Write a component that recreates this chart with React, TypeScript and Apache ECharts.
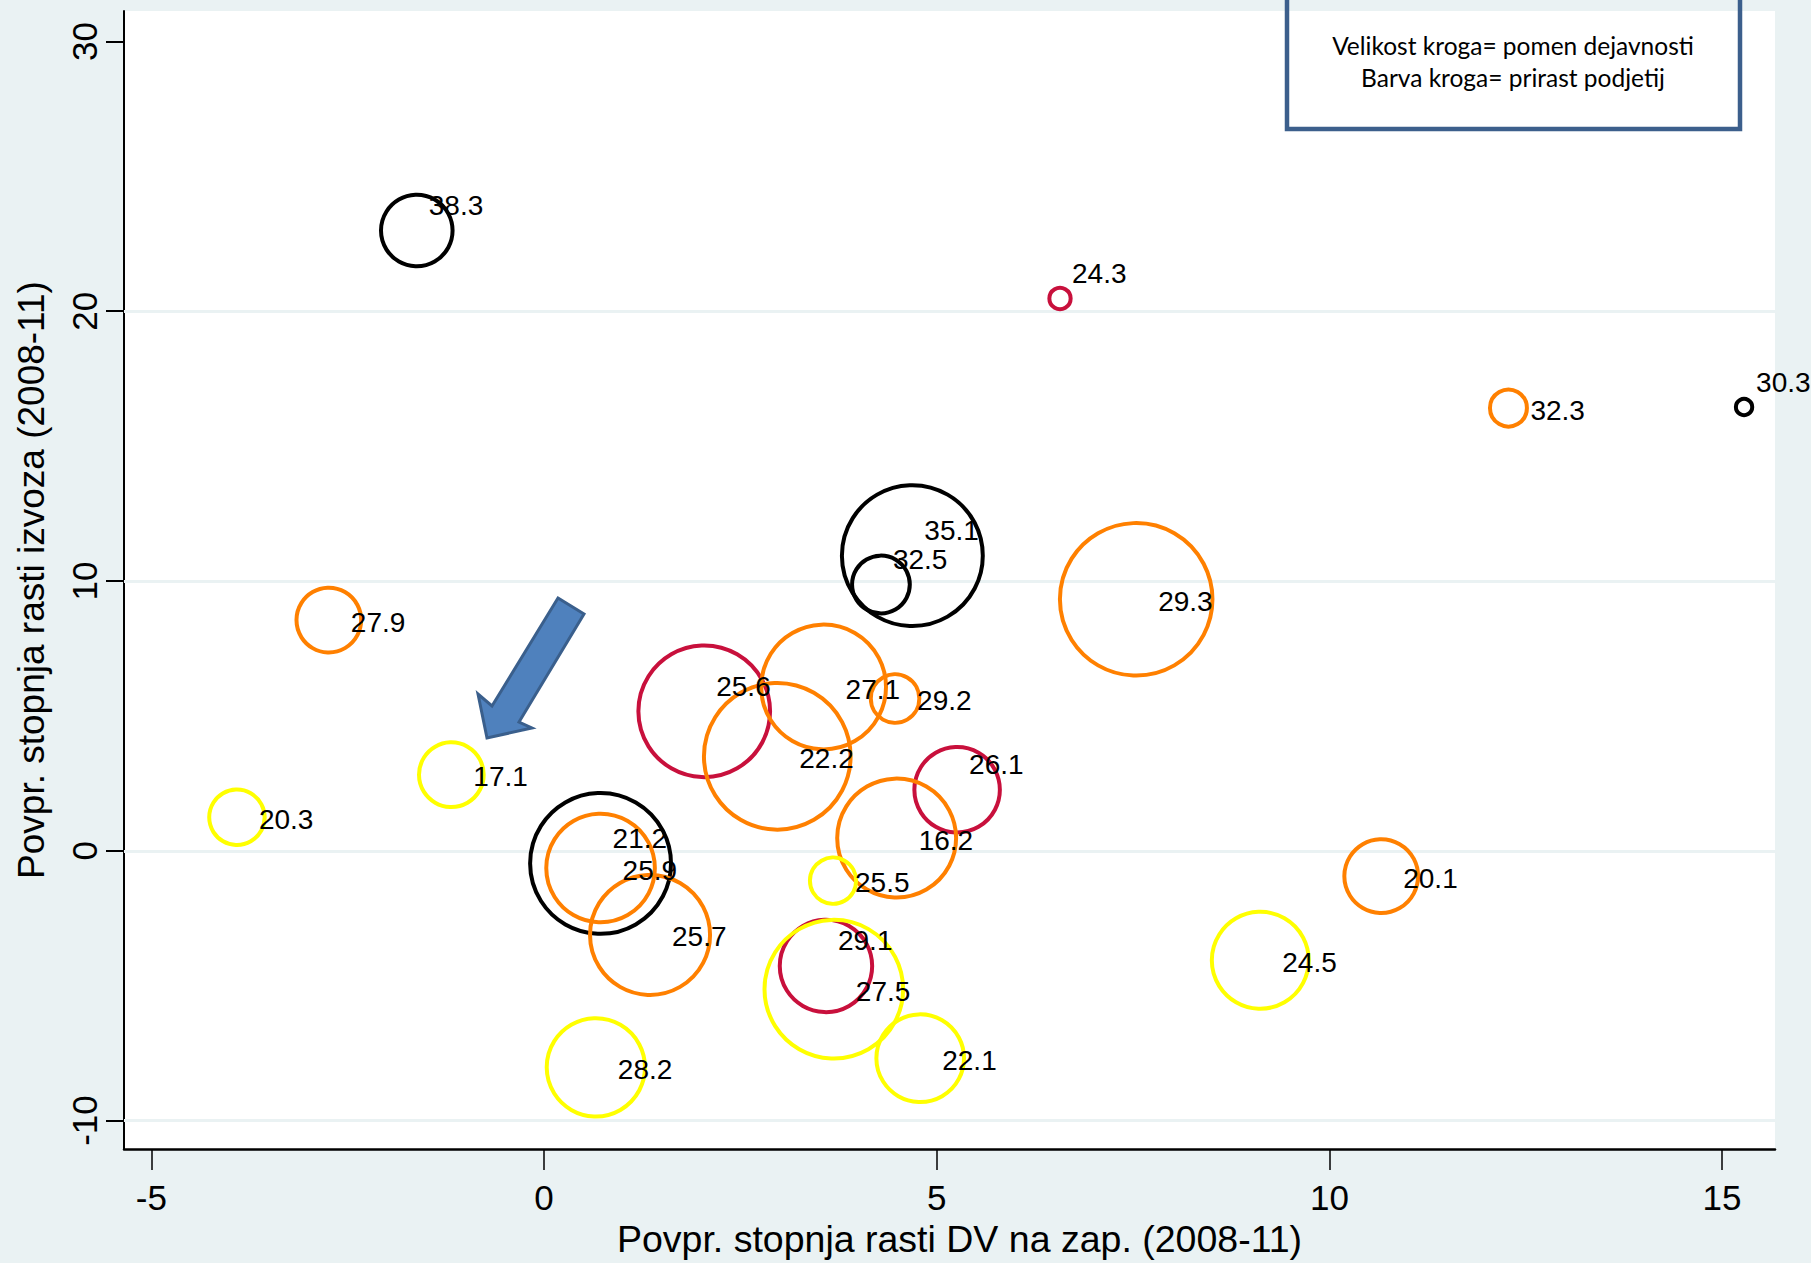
import React, { useEffect, useRef } from "react";
import * as echarts from "echarts";

// Povpr. stopnja rasti DV na zap. (2008-11)
const xGrowthValueAdded = [
  -1.62, 6.57, 15.28, 12.28, 4.69, 4.29, 7.54, -2.74, 2.04, 3.56, 4.47, 2.97, -1.18,
  5.26, -3.91, 0.72, 0.72, 4.49, 3.68, 10.66, 1.35, 3.59, 9.12, 3.69, 0.66, 4.79,
];
// Povpr. stopnja rasti izvoza (2008-11)
const yGrowthExports = [
  22.99, 20.47, 16.45, 16.41, 10.94, 9.87, 9.32, 8.55, 5.17, 6.07, 5.64, 3.5, 2.82,
  2.26, 1.24, -0.47, -0.64, 0.47, -1.11, -0.94, -3.12, -4.27, -4.06, -5.13, -8.03, -7.69,
];
// Velikost kroga = pomen dejavnosti (relative weight)
const importance = [
  9.6, 0.85, 0.5, 2.56, 37.2, 6.25, 43.6, 7.84, 32.5, 29.2, 4.41, 40.3, 7.84,
  13.7, 5.76, 37.2, 22.1, 26.5, 4.0, 10.2, 27.0, 16.0, 17.6, 36.0, 18.1, 14.4,
];
// Point labels
const pointLabels = [
  38.3, 24.3, 30.3, 32.3, 35.1, 32.5, 29.3, 27.9, 25.6, 27.1, 29.2, 22.2, 17.1,
  26.1, 20.3, 21.2, 25.9, 16.2, 25.5, 20.1, 25.7, 29.1, 24.5, 27.5, 28.2, 22.1,
];
// Barva kroga = prirast podjetij (class)
const firmGrowthClass = [
  "black", "red", "black", "orange", "black", "black", "orange", "orange", "red", "orange", "orange", "orange", "yellow",
  "red", "yellow", "black", "orange", "orange", "yellow", "orange", "orange", "red", "yellow", "yellow", "yellow", "yellow",
];

const xTicks = [-5, 0, 5, 10, 15];
const yTicks = [-10, 0, 10, 20, 30];
const yGridLines = [-10, 0, 10, 20];

const classStyles = [
  { key: "black", color: "#000000", offset: [12, -25] },
  { key: "red", color: "#c8103c", offset: [12, -25] },
  { key: "orange", color: "#ff8000", offset: [22, 2] },
  { key: "yellow", color: "#ffff00", offset: [22, 2] },
];

const BG = "#eaf2f3";
const FONT = "'Liberation Sans', Arial, sans-serif";

export default function App() {
  const ref = useRef<HTMLDivElement>(null);

  useEffect(() => {
    document.body.style.margin = "0";
    const chart = echarts.init(ref.current!, null, { renderer: "svg" });

    const scatterSeries = classStyles.map((cs) => ({
      type: "scatter",
      name: cs.key,
      z: 10,
      silent: true,
      symbol: "circle",
      symbolSize: (val: number[]) => Math.sqrt(val[2]) * 23.1,
      itemStyle: {
        color: "rgba(0,0,0,0)",
        borderColor: cs.color,
        borderWidth: 4,
        borderCap: "round",
        borderJoin: "round",
        opacity: 1,
      },
      label: {
        show: true,
        position: "inside",
        align: "left",
        verticalAlign: "middle",
        offset: cs.offset,
        color: "#000",
        fontFamily: FONT,
        fontSize: 28,
        formatter: (p: any) => p.data.name,
      },
      data: xGrowthValueAdded
        .map((x, i) => ({ i, x }))
        .filter((d) => firmGrowthClass[d.i] === cs.key)
        .map((d) => ({
          name: pointLabels[d.i].toFixed(1),
          value: [d.x, yGrowthExports[d.i], importance[d.i]],
        })),
    }));

    const option: any = {
      animation: false,
      backgroundColor: BG,
      grid: {
        left: 124,
        right: 36,
        top: 11,
        bottom: 113,
        show: true,
        backgroundColor: "#ffffff",
        borderWidth: 0,
      },
      xAxis: {
        type: "value",
        min: -5.348,
        max: 15.674,
        name: "Povpr. stopnja rasti DV na zap. (2008-11)",
        nameLocation: "middle",
        nameGap: 69,
        nameTextStyle: { fontFamily: FONT, fontSize: 37.5, color: "#000", padding: [0, 0, 0, 20] },
        axisLine: { show: true, onZero: false, lineStyle: { color: "#000", width: 2.5 } },
        axisTick: { show: true, length: 21, customValues: xTicks, lineStyle: { color: "#000", width: 1.5 } },
        axisLabel: { customValues: xTicks, margin: 31, fontFamily: FONT, fontSize: 35, color: "#000" },
        splitLine: { show: false },
      },
      yAxis: {
        type: "value",
        min: -11.06,
        max: 31.13,
        name: "Povpr. stopnja rasti izvoza (2008-11)",
        nameLocation: "middle",
        nameGap: 74,
        nameTextStyle: { fontFamily: FONT, fontSize: 37, color: "#000" },
        axisLine: { show: true, onZero: false, lineStyle: { color: "#000", width: 2 } },
        axisTick: { show: true, length: 18, customValues: yTicks, lineStyle: { color: "#000", width: 2 } },
        axisLabel: { customValues: yTicks, rotate: 90, margin: 22, fontFamily: FONT, fontSize: 35, color: "#000" },
        splitLine: { show: false },
      },
      series: [
        {
          type: "scatter",
          z: 1,
          silent: true,
          data: [],
          markLine: {
            silent: true,
            z: 2,
            symbol: ["none", "none"],
            label: { show: false },
            lineStyle: { color: BG, width: 3, type: "solid", opacity: 1 },
            data: yGridLines.map((v) => ({ yAxis: v })),
          },
        },
        ...scatterSeries,
      ],
      graphic: [
        {
          type: "rect",
          z: 20,
          shape: { x: 1287, y: -20, width: 453, height: 149 },
          style: { fill: "none", stroke: "#3c5f8c", lineWidth: 4.5 },
        },
        {
          type: "text",
          z: 21,
          x: 1513,
          y: 61,
          style: {
            text: "Velikost kroga= pomen dejavnosti\nBarva kroga= prirast podjetij",
            align: "center",
            verticalAlign: "middle",
            fontFamily: "Lato, 'Open Sans', sans-serif",
            fontSize: 24.5,
            lineHeight: 32,
            fill: "#000",
          },
        },
        {
          type: "polygon",
          z: 20,
          shape: {
            points: [
              [558, 598],
              [584, 614],
              [519, 722],
              [532, 728],
              [487, 738],
              [478, 694],
              [492, 706],
            ],
          },
          style: { fill: "#4f81bd", stroke: "#3a5f8c", lineWidth: 3, lineJoin: "miter" },
        },
      ],
    };

    chart.setOption(option);
    return () => chart.dispose();
  }, []);

  return <div ref={ref} style={{ width: 1811, height: 1263 }} />;
}
